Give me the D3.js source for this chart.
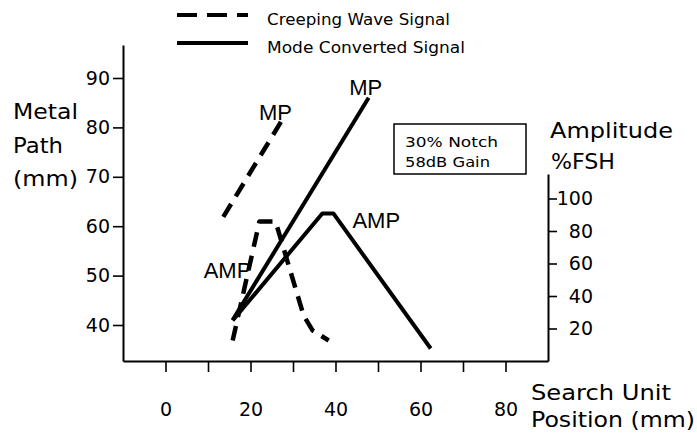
<!DOCTYPE html>
<html>
<head>
<meta charset="utf-8">
<script src="https://cdn.jsdelivr.net/npm/d3@7"></script>
<style>
  body { margin: 0; background: #fff; }
  svg text { font-family: "DejaVu Sans", sans-serif; fill: #000; }
  svg text.mark-label { font-family: "Liberation Sans", Arial, sans-serif; }
</style>
</head>
<body>
<div id="chart"></div>
<script>
// tick values
const posTicks = [0, 10, 20, 30, 40, 50, 60, 70, 80];
const posLabels = ["0", "", "20", "", "40", "", "60", "", "80"];
const pathTicks = [40, 50, 60, 70, 80, 90];
const ampTicks = [20, 40, 60, 80, 100];

// creeping wave signal (dashed)
const creepMpPos = [13.6, 27.3];
const creepMpPath = [61.9, 81.3];
const creepAmpPos = [15.8, 22.1, 25.9, 32.5, 34.6, 38.4];
const creepAmpVal = [12.6, 85.8, 85.8, 28.0, 18.8, 12.6];

// mode converted signal (solid)
const modeMpPos = [15.8, 47.8];
const modeMpPath = [41.0, 86.0];
const modeAmpPos = [15.8, 36.9, 39.5, 62.4];
const modeAmpVal = [24.9, 90.8, 90.8, 7.7];

const width = 697, height = 433;

const svg = d3.select("#chart")
    .append("svg")
    .attr("width", width)
    .attr("height", height);

const x = d3.scaleLinear().domain([-10, 90]).range([123, 548]);

// metal path scale, stretched so the axis line runs to the frame
const yPath = d3.scaleLinear().domain([40, 90]).range([325, 78]);
yPath.domain([yPath.invert(361), yPath.invert(45)]).range([361, 45]);

const yAmp = d3.scaleLinear().domain([0, 100]).range([361, 198.5]);
yAmp.domain([0, yAmp.invert(174)]).range([361, 174]);

// axes
const gLeft = svg.append("g")
    .attr("transform", "translate(123,0)")
    .call(d3.axisLeft(yPath).tickValues(pathTicks).tickSize(10).tickPadding(3).tickSizeOuter(0));

const gRight = svg.append("g")
    .attr("transform", "translate(548,0)")
    .call(d3.axisRight(yAmp).tickValues(ampTicks).tickSize(9).tickSizeOuter(0));
gRight.selectAll(".tick text").attr("x", 45).attr("text-anchor", "end");

const gBottom = svg.append("g")
    .attr("transform", "translate(0,361)")
    .call(d3.axisBottom(x).tickValues(posTicks).tickFormat((d, i) => posLabels[i])
        .tickSize(11).tickPadding(31).tickSizeOuter(0));

[gLeft, gRight, gBottom].forEach(g => {
    g.attr("font-size", 19);
    g.select(".domain").attr("stroke", "#000").attr("stroke-width", 2);
    g.selectAll(".tick line").attr("stroke", "#000").attr("stroke-width", 1.6);
});

// lines
function pts(xs, ys, yScale) {
    return d3.line()(xs.map((v, i) => [x(v), yScale(ys[i])]));
}

svg.append("path")
    .attr("d", pts(creepMpPos, creepMpPath, yPath))
    .attr("fill", "none").attr("stroke", "#000")
    .attr("stroke-width", 4.5).attr("stroke-dasharray", "15,9");

svg.append("path")
    .attr("d", pts(creepAmpPos, creepAmpVal, yAmp))
    .attr("fill", "none").attr("stroke", "#000")
    .attr("stroke-width", 4.5).attr("stroke-dasharray", "15,9")
    .attr("stroke-linejoin", "round");

svg.append("path")
    .attr("d", pts(modeMpPos, modeMpPath, yPath))
    .attr("fill", "none").attr("stroke", "#000")
    .attr("stroke-width", 4);

svg.append("path")
    .attr("d", pts(modeAmpPos, modeAmpVal, yAmp))
    .attr("fill", "none").attr("stroke", "#000")
    .attr("stroke-width", 4).attr("stroke-linejoin", "round");

// line labels
function markLabel(txt, tx, ty, anchor) {
    svg.append("text")
        .attr("class", "mark-label")
        .attr("x", tx).attr("y", ty)
        .attr("text-anchor", anchor)
        .attr("font-size", 22)
        .text(txt);
}
markLabel("MP", x(creepMpPos[1]) - 6, yPath(creepMpPath[1]) - 1, "middle");
markLabel("MP", x(modeMpPos[1]) - 3, yPath(modeMpPath[1]) - 3, "middle");
markLabel("AMP", x(modeAmpPos[2]) + 19, yAmp(modeAmpVal[2]) + 15, "start");
markLabel("AMP", x(modeAmpPos[0]) - 29, yAmp(modeAmpVal[0]) - 43, "start");

// axis titles
function title(txt, tx, ty, len, size) {
    svg.append("text")
        .attr("x", tx).attr("y", ty)
        .attr("font-size", size)
        .attr("textLength", len).attr("lengthAdjust", "spacingAndGlyphs")
        .text(txt);
}
title("Metal", 13, 119, 65, 21);
title("Path", 13, 153, 50, 21);
title("(mm)", 13, 186, 65, 21);
title("Amplitude", 550, 138, 123, 21);
title("%FSH", 551, 169, 64, 21);
title("Search Unit", 531, 400, 140, 21);
title("Position (mm)", 531, 427, 164, 21);

// note box
svg.append("rect")
    .attr("x", 394).attr("y", 124).attr("width", 132).attr("height", 50)
    .attr("fill", "none").attr("stroke", "#000").attr("stroke-width", 1.5);
title("30% Notch", 405, 147, 93, 14);
title("58dB Gain", 405, 167, 85, 14);

// legend
svg.append("line")
    .attr("x1", 177).attr("x2", 248).attr("y1", 15).attr("y2", 15)
    .attr("stroke", "#000").attr("stroke-width", 4).attr("stroke-dasharray", "20,10");
svg.append("line")
    .attr("x1", 177).attr("x2", 248).attr("y1", 43).attr("y2", 43)
    .attr("stroke", "#000").attr("stroke-width", 4);
title("Creeping Wave Signal", 267, 25, 183, 16);
title("Mode Converted Signal", 267, 53, 198, 16);
</script>
</body>
</html>
